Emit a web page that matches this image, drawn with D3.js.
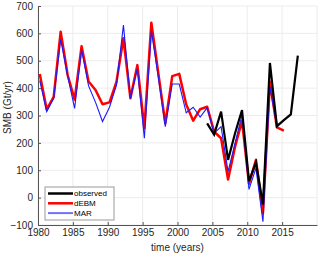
<!DOCTYPE html>
<html>
<head>
<meta charset="utf-8">
<script src="https://cdn.jsdelivr.net/npm/d3@7"></script>
<style>
  body { margin: 0; background: #fff; }
  svg { display: block; font-family: "Liberation Sans", Arial, sans-serif; }
</style>
</head>
<body>
<div id="chart"></div>
<script>
// yearly SMB (Gt/yr)
const debmYears = d3.range(1980, 2016);
const debmValues = [452, 322, 368, 606, 448, 358, 553, 424, 393, 341,
                    348, 423, 582, 363, 484, 253, 639, 455, 271, 444,
                    452, 340, 281, 323, 332, 241, 217, 66, 186, 280,
                    50, 138, -57, 423, 257, 245];

const marYears = d3.range(1980, 2015);
const marValues = [427, 314, 363, 578, 445, 326, 541, 408, 348, 278,
                   330, 411, 630, 363, 472, 217, 610, 440, 259, 415,
                   415, 310, 330, 294, 328, 235, 259, 95, 199, 302,
                   30, 108, -88, 405, 260];

const obsYears = d3.range(2004, 2018);
const obsValues = [271, 230, 314, 138, 235, 320, 60, 128, -25, 492,
                   261, 283, 304, 519];

const xTicks = [1980, 1985, 1990, 1995, 2000, 2005, 2010, 2015];
const yTicks = [-100, 0, 100, 200, 300, 400, 500, 600, 700];
const legendLabels = ["observed", "dEBM", "MAR"];

const W = 320, H = 255;
const margin = {top: 6, right: 3, bottom: 30, left: 38};
const width = W - margin.left - margin.right;
const height = H - margin.top - margin.bottom;
const yearOffset = 0.25; // values sit slightly right of the tick year

const svg = d3.select("#chart").append("svg")
    .attr("width", W)
    .attr("height", H);

const g = svg.append("g")
    .attr("transform", `translate(${margin.left},${margin.top})`);

const x = d3.scaleLinear().domain([1980, 2020]).range([0, width]);
const y = d3.scaleLinear().domain([-100, 700]).range([height, 0]);

// grid
g.append("g").selectAll("line")
    .data(xTicks.concat([2020]))
    .join("line")
    .attr("x1", d => x(d)).attr("x2", d => x(d))
    .attr("y1", 0).attr("y2", height)
    .style("stroke", "#ececec").style("stroke-width", 1);

g.append("g").selectAll("line")
    .data(yTicks)
    .join("line")
    .attr("x1", 0).attr("x2", width)
    .attr("y1", d => y(d)).attr("y2", d => y(d))
    .style("stroke", "#ececec").style("stroke-width", 1);

// axes
const xAxis = g.append("g")
    .attr("transform", `translate(0,${height})`)
    .call(d3.axisBottom(x).tickValues(xTicks).tickFormat(d3.format("d"))
        .tickSizeInner(-3).tickSizeOuter(0).tickPadding(4));

const yAxis = g.append("g")
    .call(d3.axisLeft(y).tickValues(yTicks)
        .tickSizeInner(-3).tickSizeOuter(0).tickPadding(5));

[xAxis, yAxis].forEach(a => {
    a.select(".domain").style("stroke", "#555").style("stroke-width", 1);
    a.selectAll(".tick line").style("stroke", "#555");
    a.selectAll("text")
        .style("font-size", "10px")
        .style("fill", "#262626")
        .style("font-family", "Liberation Sans, Arial, sans-serif");
});

// axis labels
g.append("text")
    .attr("x", width / 2)
    .attr("y", height + 26)
    .attr("text-anchor", "middle")
    .style("font-size", "10px")
    .style("fill", "#262626")
    .text("time (years)");

g.append("text")
    .attr("transform", "rotate(-90)")
    .attr("x", -height / 2 + 8)
    .attr("y", -27)
    .attr("text-anchor", "middle")
    .style("font-size", "10px")
    .style("fill", "#262626")
    .text("SMB (Gt/yr)");

// series
const line = d3.line()
    .x(d => x(d[0] + yearOffset))
    .y(d => y(d[1]));

g.append("path")
    .datum(d3.zip(debmYears, debmValues))
    .attr("d", line)
    .style("fill", "none")
    .style("stroke", "#ff0000")
    .style("stroke-width", 2.5)
    .style("stroke-linejoin", "round");

g.append("path")
    .datum(d3.zip(marYears, marValues))
    .attr("d", line)
    .style("fill", "none")
    .style("stroke", "#1a1aff")
    .style("stroke-width", 1.1);

g.append("path")
    .datum(d3.zip(obsYears, obsValues))
    .attr("d", line)
    .style("fill", "none")
    .style("stroke", "#000")
    .style("stroke-width", 2.2);

// legend
const legendColors = ["#000", "#ff0000", "#7070ff"];
const legendWidths = [2.5, 2.5, 2];

const legend = svg.append("g")
    .attr("transform", "translate(45,187)");

legend.append("rect")
    .attr("width", 69)
    .attr("height", 33)
    .style("fill", "#fff")
    .style("stroke", "#999")
    .style("stroke-width", 1);

legendLabels.forEach((label, i) => {
    const ly = 6.5 + i * 9.8;
    legend.append("line")
        .attr("x1", 3).attr("x2", 28)
        .attr("y1", ly).attr("y2", ly)
        .style("stroke", legendColors[i])
        .style("stroke-width", legendWidths[i]);
    legend.append("text")
        .attr("x", 29)
        .attr("y", ly)
        .attr("dy", "0.35em")
        .style("font-size", "8px")
        .style("fill", "#000")
        .text(label);
});
</script>
</body>
</html>
